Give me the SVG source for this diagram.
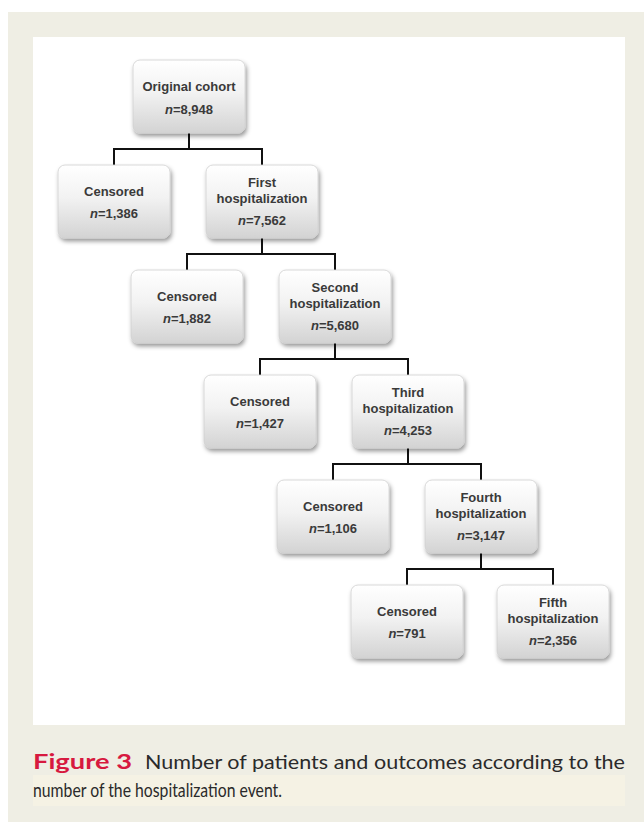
<svg xmlns="http://www.w3.org/2000/svg" width="644" height="822" viewBox="0 0 644 822">
<defs>
<linearGradient id="g" x1="0" y1="0" x2="0" y2="1">
<stop offset="0" stop-color="#ffffff"/>
<stop offset="0.45" stop-color="#f2f2f2"/>
<stop offset="1" stop-color="#d3d3d3"/>
</linearGradient>
<filter id="sh" x="-20%" y="-20%" width="140%" height="150%">
<feDropShadow dx="1.5" dy="3" stdDeviation="2.2" flood-color="#000" flood-opacity="0.4"/>
</filter>
<style>
.box{fill:url(#g);stroke:#d0d0d0;stroke-width:0.8;filter:url(#sh)}
.t{font-family:"Liberation Sans",Arial,sans-serif;font-weight:bold;font-size:13px;fill:#3a3a3a;text-anchor:middle}
.i{font-style:italic}
.c{fill:none;stroke:#111;stroke-width:2}
.cap{font-family:Lato,"Open Sans",sans-serif;font-size:20px;fill:#2a2a2a}
</style>
</defs>
<rect x="0" y="0" width="644" height="822" fill="#ffffff"/>
<rect x="8" y="12" width="636" height="810" fill="#efeee4"/>
<rect x="33" y="37" width="592" height="688" fill="#ffffff"/>
<rect x="33" y="775" width="592" height="31" fill="#f5f2e4"/>

<g id="connectors">
<path class="c" d="M189 133V149M114 165V149H262V165"/>
<path class="c" d="M262 238V254M187 270V254H335V270"/>
<path class="c" d="M335 343V359M260 375V359H408V375"/>
<path class="c" d="M408 448V464M333 480V464H481V480"/>
<path class="c" d="M481 553V569M407 585V569H553V585"/>
</g>

<g id="n0"><rect class="box" x="133" y="60" width="112" height="73" rx="7"/>
<text class="t" x="189" y="91">Original cohort</text>
<text class="t" x="189" y="114"><tspan class="i">n</tspan>=8,948</text></g>

<g id="c1"><rect class="box" x="58" y="165" width="112" height="73" rx="7"/>
<text class="t" x="114" y="196">Censored</text>
<text class="t" x="114" y="218"><tspan class="i">n</tspan>=1,386</text></g>
<g id="h1"><rect class="box" x="206" y="165" width="112" height="73" rx="7"/>
<text class="t" x="262" y="187">First</text>
<text class="t" x="262" y="203">hospitalization</text>
<text class="t" x="262" y="225"><tspan class="i">n</tspan>=7,562</text></g>

<g id="c2"><rect class="box" x="131" y="270" width="112" height="73" rx="7"/>
<text class="t" x="187" y="301">Censored</text>
<text class="t" x="187" y="323"><tspan class="i">n</tspan>=1,882</text></g>
<g id="h2"><rect class="box" x="279" y="270" width="112" height="73" rx="7"/>
<text class="t" x="335" y="292">Second</text>
<text class="t" x="335" y="308">hospitalization</text>
<text class="t" x="335" y="330"><tspan class="i">n</tspan>=5,680</text></g>

<g id="c3"><rect class="box" x="204" y="375" width="112" height="73" rx="7"/>
<text class="t" x="260" y="406">Censored</text>
<text class="t" x="260" y="428"><tspan class="i">n</tspan>=1,427</text></g>
<g id="h3"><rect class="box" x="352" y="375" width="112" height="73" rx="7"/>
<text class="t" x="408" y="397">Third</text>
<text class="t" x="408" y="413">hospitalization</text>
<text class="t" x="408" y="435"><tspan class="i">n</tspan>=4,253</text></g>

<g id="c4"><rect class="box" x="277" y="480" width="112" height="73" rx="7"/>
<text class="t" x="333" y="511">Censored</text>
<text class="t" x="333" y="533"><tspan class="i">n</tspan>=1,106</text></g>
<g id="h4"><rect class="box" x="425" y="480" width="112" height="73" rx="7"/>
<text class="t" x="481" y="502">Fourth</text>
<text class="t" x="481" y="518">hospitalization</text>
<text class="t" x="481" y="540"><tspan class="i">n</tspan>=3,147</text></g>

<g id="c5"><rect class="box" x="351" y="585" width="112" height="73" rx="7"/>
<text class="t" x="407" y="616">Censored</text>
<text class="t" x="407" y="638"><tspan class="i">n</tspan>=791</text></g>
<g id="h5"><rect class="box" x="497" y="585" width="112" height="73" rx="7"/>
<text class="t" x="553" y="607">Fifth</text>
<text class="t" x="553" y="623">hospitalization</text>
<text class="t" x="553" y="645"><tspan class="i">n</tspan>=2,356</text></g>

<g id="caption">
<text x="33" y="769" font-family="Lato,'Open Sans',sans-serif" font-weight="bold" font-size="21" fill="#d7193f" textLength="99" lengthAdjust="spacingAndGlyphs">Figure 3</text>
<text class="cap" x="145" y="769" textLength="480" lengthAdjust="spacingAndGlyphs">Number of patients and outcomes according to the</text>
<text class="cap" x="33" y="797" textLength="249" lengthAdjust="spacingAndGlyphs">number of the hospitalization event.</text>
</g>
</svg>
